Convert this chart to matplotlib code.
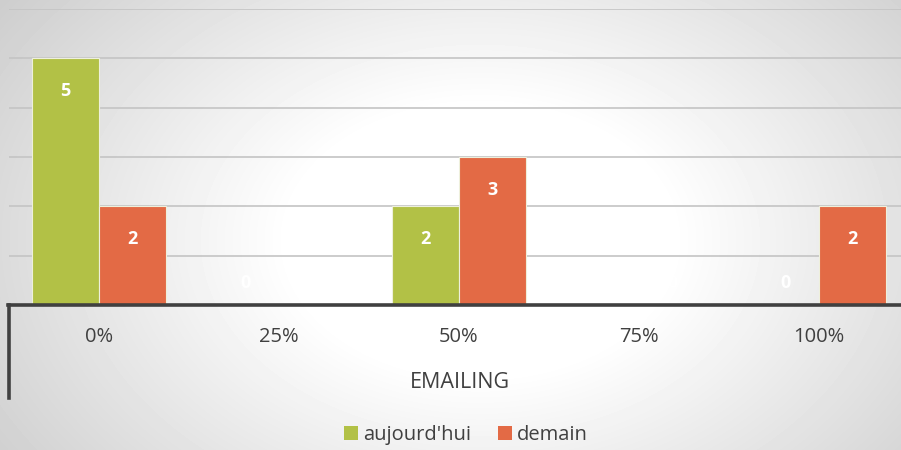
import numpy as np
import matplotlib
matplotlib.use("Agg")
import matplotlib.pyplot as plt
from matplotlib.lines import Line2D
from matplotlib.patches import Patch

plt.rcParams['font.family'] = ['Open Sans', 'DejaVu Sans']

categories = ['0%', '25%', '50%', '75%', '100%']
group_label = 'EMAILING'
series_names = ["aujourd'hui", 'demain']
aujourdhui = [5, 0, 2, 0, 0]
demain = [2, 0, 3, 0, 2]
colors = ['#B2C146', '#E36A45']
text_col = '#404040'

W, H = 901, 450
fig = plt.figure(figsize=(W / 100, H / 100), dpi=100)

# radial gradient background
bg = fig.add_axes([0, 0, 1, 1], zorder=0)
yy, xx = np.mgrid[0:H, 0:W]
r = np.sqrt(((xx - 480) / 600.0) ** 2 + ((yy - 240) / 420.0) ** 2)
shade = np.clip(1.0 - 0.2 * np.clip(r - 0.32, 0, None) / 0.68, 0.78, 1.0)
bg.imshow(shade, cmap='gray', vmin=0, vmax=1, aspect='auto', extent=[0, W, H, 0])
bg.set_xlim(0, W)
bg.set_ylim(H, 0)
bg.axis('off')

# main axes: x from 9 to 909 px, y from 305 (0) to 9 (6)
x0, x1 = 9, 909
y0, y1 = 305, 9
ax = fig.add_axes([x0 / W, (H - y0) / H, (x1 - x0) / W, (y0 - y1) / H], zorder=1)
ax.patch.set_alpha(0)
ax.set_xlim(-0.5, len(categories) - 0.5)
ax.set_ylim(0, 6)
ax.set_yticks(range(0, 7))
ax.yaxis.grid(True, color='#c4c4c4', linewidth=1.2)
ax.set_axisbelow(True)
ax.tick_params(left=False, labelleft=False, bottom=False, labelbottom=False)
for s in ax.spines.values():
    s.set_visible(False)

x = np.arange(len(categories))
bw = 0.372
for i, (vals, c) in enumerate(zip([aujourdhui, demain], colors)):
    pos = x + (i - 0.5) * bw
    bars = ax.bar(pos, vals, bw, color=c, edgecolor='#eef0dc', linewidth=0.8, zorder=2)
    for p, v in zip(pos, vals):
        yl = v - 0.66 if v > 0 else 0.44
        ax.text(p, yl, str(v), ha='center', va='center', color='white',
                fontsize=13, fontweight='bold', zorder=3)

# category axis line (thick) and left border of multi-level axis
fig.add_artist(Line2D([8 / W, 1], [(H - 305) / H] * 2, color='#404040', linewidth=2.6, zorder=4))
fig.add_artist(Line2D([9 / W, 9 / W], [(H - 305) / H, (H - 398) / H], color='#404040', linewidth=2.6, zorder=4))

for xi, lab in zip(x, categories):
    px = x0 + (xi + 0.5) * 180
    fig.text(px / W, (H - 337) / H, lab, ha='center', va='center', color=text_col, fontsize=14.5)
fig.text(460 / W, (H - 382) / H, group_label, ha='center', va='center', color=text_col, fontsize=15.5)

handles = [Patch(facecolor=c, edgecolor='none') for c in colors]
fig.legend(handles, series_names, loc='center', bbox_to_anchor=(466 / W, (H - 435) / H),
           ncol=2, frameon=False, fontsize=14.5, handlelength=0.7, handleheight=0.7,
           handletextpad=0.25, columnspacing=1.3, labelcolor=text_col)

fig.savefig('out.png', dpi=100)
